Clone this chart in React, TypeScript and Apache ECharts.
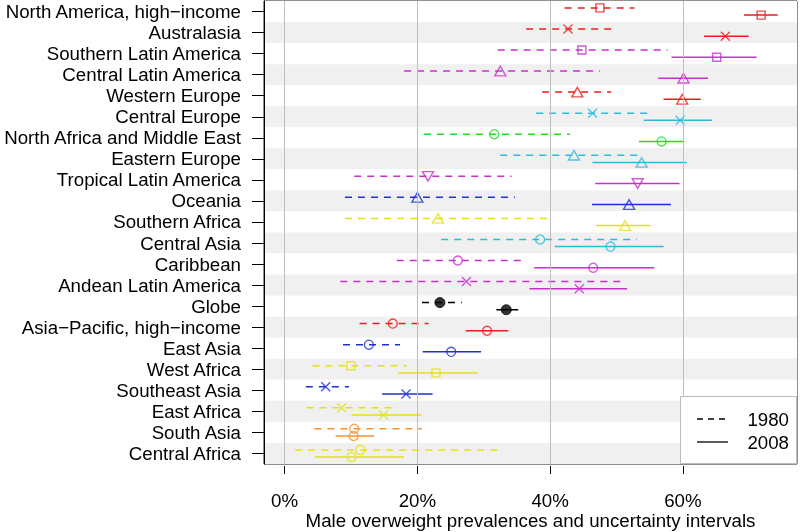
import React, { useEffect, useRef } from "react";
import * as echarts from "echarts";

const categories = [
  "North America, high\u2212income",
  "Australasia",
  "Southern Latin America",
  "Central Latin America",
  "Western Europe",
  "Central Europe",
  "North Africa and Middle East",
  "Eastern Europe",
  "Tropical Latin America",
  "Oceania",
  "Southern Africa",
  "Central Asia",
  "Caribbean",
  "Andean Latin America",
  "Globe",
  "Asia\u2212Pacific, high\u2212income",
  "East Asia",
  "West Africa",
  "Southeast Asia",
  "East Africa",
  "South Asia",
  "Central Africa",
];

const low1980 = [42.2, 36.4, 32.1, 18.0, 38.8, 37.9, 21.0, 32.5, 10.5, 9.1, 9.1, 23.6, 16.9, 8.4, 20.7, 11.3, 8.8, 4.2, 3.2, 3.3, 4.5, 1.6];
const mid1980 = [47.5, 42.7, 44.8, 32.5, 44.1, 46.4, 31.6, 43.6, 21.6, 20.0, 23.1, 38.5, 26.1, 27.4, 23.4, 16.3, 12.7, 10.0, 6.2, 8.6, 10.5, 11.4];
const high1980 = [52.7, 50.0, 57.7, 47.5, 49.2, 55.4, 43.0, 53.5, 34.2, 34.7, 40.5, 53.1, 36.4, 51.2, 26.7, 21.7, 17.4, 18.4, 9.7, 17.1, 20.7, 32.8];

const low2008 = [69.2, 63.2, 58.3, 56.3, 57.1, 54.1, 53.4, 46.4, 46.8, 46.3, 46.9, 40.7, 37.6, 36.9, 31.9, 27.3, 20.8, 17.1, 14.7, 10.1, 7.7, 4.6];
const mid2008 = [71.8, 66.4, 65.1, 60.1, 59.9, 59.6, 56.8, 53.8, 53.2, 51.9, 51.3, 49.1, 46.5, 44.4, 33.4, 30.5, 25.1, 22.8, 18.3, 14.9, 10.4, 10.1];
const high2008 = [74.3, 69.9, 71.1, 63.8, 62.7, 64.4, 60.2, 60.6, 59.5, 58.2, 55.2, 57.1, 55.7, 51.6, 35.2, 33.7, 29.6, 29.1, 22.3, 20.6, 13.5, 18.0];

const xTicks = [0, 20, 40, 60];
const years = ["1980", "2008"];

// style maps per region
const RED = "#ee1c1c";
const MAG = "#c930c9";
const CYAN = "#2ebbdb";
const GREEN = "#22dd22";
const BLUE = "#1f30cf";
const YEL = "#e2e210";
const ORA = "#f5922f";
const BLK = "#000000";
const regionColor = [RED, RED, MAG, MAG, RED, CYAN, GREEN, CYAN, MAG, BLUE, YEL, CYAN, MAG, MAG, BLK, RED, BLUE, YEL, BLUE, YEL, ORA, YEL];
const regionMarker = ["sq", "x", "sq", "tu", "tu", "x", "ci", "tu", "td", "tu", "tu", "ci", "ci", "x", "dot", "ci", "ci", "sq", "x", "x", "ci", "ci"];

const FONT = "Liberation Sans, Arial, Helvetica, sans-serif";
const FS = 18.7;
const OFF = 3.6;

function markerItem(kind: string, color: string, value: number[]) {
  const base: any = { value, itemStyle: { color: "rgba(0,0,0,0)", borderColor: color, borderWidth: 1.4 } };
  switch (kind) {
    case "sq":
      base.symbol = "rect";
      base.symbolSize = 8;
      break;
    case "x":
      base.symbol = "path://M0,0L1,1M1,0L0,1";
      base.symbolSize = 9;
      break;
    case "tu":
      base.symbol = "triangle";
      base.symbolSize = [11, 9.5];
      break;
    case "td":
      base.symbol = "path://M0,0L2,0L1,1.73Z";
      base.symbolSize = [11, 9.5];
      break;
    case "dot":
      base.symbol = "circle";
      base.symbolSize = 10;
      base.itemStyle = { color, borderColor: color, borderWidth: 1 };
      break;
    default:
      base.symbol = "circle";
      base.symbolSize = 9;
  }
  return base;
}

export default function App() {
  const ref = useRef<HTMLDivElement>(null);
  useEffect(() => {
    if (!ref.current) return;
    const chart = echarts.init(ref.current, null, { renderer: "svg" });

    const intervalSeries = (lo: number[], hi: number[], dashed: boolean, off: number) => ({
      type: "custom",
      name: dashed ? years[0] : years[1],
      z: 3,
      encode: { x: [1, 2], y: 0 },
      data: categories.map((_, i) => [i, lo[i], hi[i]]),
      renderItem: (params: any, api: any) => {
        const idx = api.value(0);
        const p1 = api.coord([api.value(1), idx]);
        const p2 = api.coord([api.value(2), idx]);
        return {
          type: "line",
          shape: { x1: p1[0], y1: p1[1] + off, x2: p2[0], y2: p2[1] + off },
          style: {
            stroke: regionColor[params.dataIndex],
            lineWidth: 1.5,
            lineDash: dashed ? [7, 6] : null,
            fill: null,
          },
        };
      },
    });

    const markerSeries = (mid: number[], off: number) => ({
      type: "scatter",
      z: 4,
      symbolOffset: [0, off],
      data: categories.map((_, i) => markerItem(regionMarker[i], regionColor[i], [mid[i], i])),
    });

    const LZ = 100;
    const option: any = {
      animation: false,
      textStyle: { fontFamily: FONT },
      grid: {
        left: 264,
        right: 3,
        top: 1,
        bottom: 68,
        show: true,
        borderColor: "#222",
        borderWidth: 1,
        backgroundColor: "transparent",
        containLabel: false,
        outerBoundsMode: "none",
      },
      xAxis: {
        type: "value",
        min: -3.1,
        max: 77.2,
        offset: 2,
        axisLine: { show: false, onZero: false },
        splitLine: { show: false },
        axisTick: { show: true, length: 8, customValues: xTicks, lineStyle: { color: "#000", width: 1 } },
        axisLabel: {
          customValues: xTicks,
          formatter: (v: number) => v + "%",
          fontSize: FS,
          color: "#000",
          fontFamily: FONT,
          margin: 25,
        },
        name: "Male overweight prevalences and uncertainty intervals",
        nameLocation: "middle",
        nameGap: 45,
        nameMoveOverlap: false,
        nameTextStyle: { fontSize: FS, color: "#000", fontFamily: FONT },
      },
      yAxis: {
        type: "category",
        data: categories,
        inverse: true,
        axisLine: { show: true, onZero: false, lineStyle: { color: "#000", width: 1 } },
        axisTick: { show: true, length: 12, alignWithLabel: true, interval: 0, lineStyle: { color: "#000" } },
        axisLabel: { interval: 0, fontSize: FS, color: "#000", fontFamily: FONT, margin: 23 },
        splitLine: { show: false },
        splitArea: { show: true, interval: 0, areaStyle: { color: ["#ffffff", "#f0f0f0"] } },
      },
      series: [
        {
          type: "line",
          data: [],
          z: 1,
          silent: true,
          markLine: {
            silent: true,
            symbol: ["none", "none"],
            label: { show: false },
            lineStyle: { color: "#bebebe", type: "solid", width: 1 },
            data: xTicks.map((v) => ({ xAxis: v })),
          },
        },
        intervalSeries(low1980, high1980, true, -OFF),
        intervalSeries(low2008, high2008, false, OFF),
        markerSeries(mid1980, -OFF),
        markerSeries(mid2008, OFF),
      ],
      graphic: [
        {
          type: "rect",
          z: LZ,
          silent: true,
          shape: { x: 680.5, y: 396.5, width: 116, height: 67 },
          style: { fill: "#ffffff", stroke: "#bbbbbb", lineWidth: 1 },
        },
        {
          type: "line",
          z: LZ + 1,
          silent: true,
          shape: { x1: 697, y1: 419, x2: 728, y2: 419 },
          style: { stroke: "#000", lineWidth: 1.3, lineDash: [6, 5] },
        },
        {
          type: "line",
          z: LZ + 1,
          silent: true,
          shape: { x1: 697, y1: 442, x2: 728, y2: 442 },
          style: { stroke: "#000", lineWidth: 1.3 },
        },
        {
          type: "text",
          z: LZ + 1,
          silent: true,
          x: 789,
          y: 419,
          style: { text: years[0], fontSize: FS, fontFamily: FONT, fill: "#000", align: "right", verticalAlign: "middle" },
        },
        {
          type: "text",
          z: LZ + 1,
          silent: true,
          x: 789,
          y: 442,
          style: { text: years[1], fontSize: FS, fontFamily: FONT, fill: "#000", align: "right", verticalAlign: "middle" },
        },
      ],
    };
    chart.setOption(option);
    return () => chart.dispose();
  }, []);
  return <div ref={ref} style={{ position: "fixed", left: 0, top: 0, width: 800, height: 532 }} />;
}
